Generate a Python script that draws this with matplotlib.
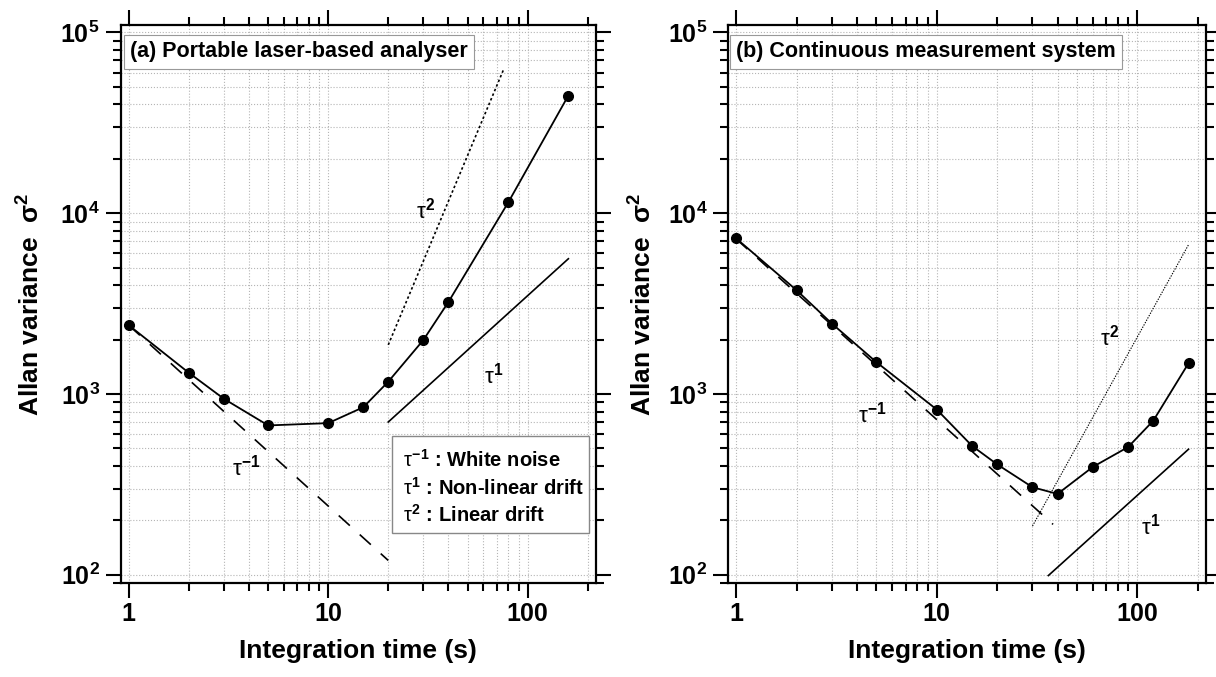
import matplotlib.pyplot as plt
from matplotlib.patches import Rectangle
from matplotlib.ticker import NullFormatter

plt.rcParams['font.family'] = ['Liberation Sans', 'DejaVu Sans']
plt.rcParams['mathtext.fontset'] = 'custom'
plt.rcParams['mathtext.rm'] = 'Liberation Sans:bold'
plt.rcParams['mathtext.bf'] = 'Liberation Sans:bold'
plt.rcParams['mathtext.it'] = 'Liberation Sans'
plt.rcParams['mathtext.sf'] = 'Liberation Sans:bold'

# (a) portable laser-based analyser
tau_a = [1, 2, 3, 5, 10, 15, 20, 30, 40, 80, 160]
var_a = [2400, 1310, 940, 670, 690, 845, 1170, 1990, 3220, 11500, 44800]
white_a_x, white_a_y = [1, 20], [2400, 120]
nonlin_a_x, nonlin_a_y = [20, 160], [700, 5600]
lin_a_x, lin_a_y = [20, 76], [1870, 63000]

# (b) continuous measurement system
tau_b = [1, 2, 3, 5, 10, 15, 20, 30, 40, 60, 90, 120, 180]
var_b = [7250, 3750, 2450, 1500, 820, 516, 408, 305, 280, 395, 509, 711, 1480]
white_b_x, white_b_y = [1, 38], [7200, 190]
nonlin_b_x, nonlin_b_y = [36, 180], [99, 495]
lin_b_x, lin_b_y = [30, 180], [186, 6700]

xticks = [1, 10, 100]
xticklabels = ['1', '10', '100']
legend_lines = [r'$\tau^{-1}$ : White noise',
                r'$\tau^{1}$ : Non-linear drift',
                r'$\tau^{2}$ : Linear drift']


def style(ax):
    ax.set_xscale('log')
    ax.set_yscale('log')
    ax.set_xlim(0.91, 220)
    ax.set_ylim(90, 1.1e5)
    ax.set_xticks(xticks, labels=xticklabels)
    ax.xaxis.set_minor_formatter(NullFormatter())
    ax.yaxis.set_minor_formatter(NullFormatter())
    ax.tick_params(which='both', direction='out', top=True, right=True, width=1.5)
    ax.tick_params(which='major', length=11, labelsize=18)
    ax.tick_params(axis='x', which='major', pad=3)
    ax.tick_params(axis='y', which='major', pad=4)
    ax.tick_params(which='minor', length=5.5)
    for lab in ax.get_xticklabels() + ax.get_yticklabels():
        lab.set_fontweight('bold')
    ax.set_axisbelow(True)
    ax.grid(True, which='both', linestyle=':', color='#b5b5b5', lw=0.8)
    for s in ax.spines.values():
        s.set_linewidth(1.6)
    ax.set_xlabel('Integration time (s)', fontsize=19, fontweight='bold')
    ax.set_ylabel(r'Allan variance  $\mathbf{\sigma^{2}}$', fontsize=19, fontweight='bold')
    ax.xaxis.set_label_coords(0.5, -0.1)


fig = plt.figure(figsize=(12.16, 6.77), dpi=100)
ax_a = fig.add_axes([0.0992, 0.1388, 0.3909, 0.8243])
ax_b = fig.add_axes([0.5987, 0.1388, 0.3931, 0.8243])

# panel (a)
style(ax_a)
ax_a.yaxis.set_label_coords(-0.159, 0.5)
ax_a.plot(white_a_x, white_a_y, color='black', lw=1.2, linestyle=(0, (9, 8)), zorder=4)
ax_a.plot(nonlin_a_x, nonlin_a_y, color='black', lw=1.2, zorder=4)
ax_a.plot(lin_a_x, lin_a_y, color='black', lw=1.2, linestyle=(0, (1.5, 1.5)), zorder=4)
ax_a.plot(tau_a, var_a, '-o', color='black', lw=1.3, ms=7, zorder=5)
ax_a.text(31, 1.03e4, r'$\tau^{2}$', fontsize=16, ha='center', va='center')
ax_a.text(68, 1270, r'$\tau^{1}$', fontsize=16, ha='center', va='center')
ax_a.text(3.9, 390, r'$\tau^{-1}$', fontsize=16, ha='center', va='center')
ax_a.text(0.02, 0.952, '(a) Portable laser-based analyser', transform=ax_a.transAxes,
          fontsize=15.5, fontweight='bold', va='center', zorder=6,
          bbox=dict(boxstyle='square,pad=0.3', fc='white', ec='#999999', lw=0.8))
ax_a.add_patch(Rectangle((0.571, 0.0896), 0.414, 0.174, transform=ax_a.transAxes,
                         fc='white', ec='#888888', lw=1.0, zorder=6))
for yy, line in zip([0.2204, 0.1703, 0.1219], legend_lines):
    ax_a.text(0.594, yy, line, transform=ax_a.transAxes, fontsize=14.5,
              fontweight='bold', va='center', zorder=7)

# panel (b)
style(ax_b)
ax_b.yaxis.set_label_coords(-0.149, 0.5)
ax_b.plot(white_b_x, white_b_y, color='black', lw=1.2, linestyle=(0, (9, 8)), zorder=4)
ax_b.plot(nonlin_b_x, nonlin_b_y, color='black', lw=1.2, zorder=4)
ax_b.plot(lin_b_x, lin_b_y, color='black', lw=0.8, linestyle=(0, (1.2, 1.2)), zorder=4)
ax_b.plot(tau_b, var_b, '-o', color='black', lw=1.3, ms=7, zorder=5)
ax_b.text(4.8, 770, r'$\tau^{-1}$', fontsize=16, ha='center', va='center')
ax_b.text(73, 2050, r'$\tau^{2}$', fontsize=16, ha='center', va='center')
ax_b.text(117, 185, r'$\tau^{1}$', fontsize=16, ha='center', va='center')
ax_b.text(0.017, 0.952, '(b) Continuous measurement system', transform=ax_b.transAxes,
          fontsize=15.5, fontweight='bold', va='center', zorder=6,
          bbox=dict(boxstyle='square,pad=0.3', fc='white', ec='#999999', lw=0.8))

fig.savefig('out.png', dpi=100)
